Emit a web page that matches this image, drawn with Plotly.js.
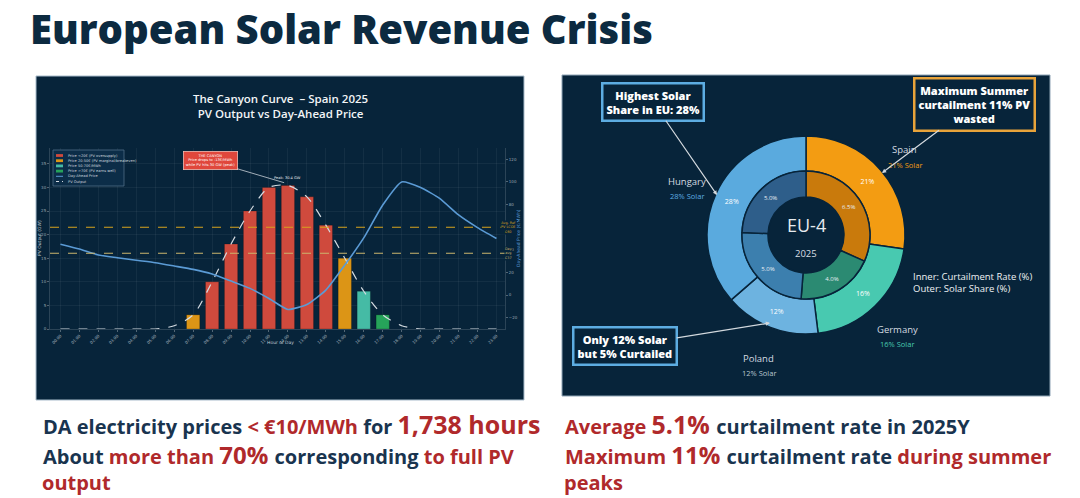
<!DOCTYPE html>
<html><head><meta charset="utf-8">
<script src="https://cdn.plot.ly/plotly-3.0.1.min.js"></script>
<style>html,body{margin:0;padding:0;background:#fff;overflow:hidden}#chart{width:1080px;height:498px}</style>
</head><body><div id="chart"></div>
<script>
// ---------- DATA ----------
const hours = ['00:00','01:00','02:00','03:00','04:00','05:00','06:00','07:00','08:00','09:00','10:00','11:00',
               '12:00','13:00','14:00','15:00','16:00','17:00','18:00','19:00','20:00','21:00','22:00','23:00'];
const pvOutput = [0,0,0,0,0,0,0.7,3,10,18,25,30,30.4,28,22,15,8,3,0.7,0,0,0,0,0];           // GW
const dayAheadPrice = [45,40.7,35.4,33,30.7,28.6,25.7,22.7,18.6,12.4,5.9,-3,-12.7,-8.3,4.4,26.5,50.5,79.6,100,95,85.5,70.8,59.6,50]; // EUR/MWh
const bandNames = ['Price <20€ (PV oversupply)','Price 20-50€ (PV marginal/breakeven)','Price 50-70€/MWh','Price >70€ (PV earns well)'];
const bandLower = [-Infinity,20,50,70];
const bandUpper = [20,50,70,Infinity];
const bandColors = ['#cf4a3d','#dc9516','#45bba5','#26a35a'];
const refLineValues = [60,37];
const refLineLabels = ['Avg. Ref<br>PV LCOE<br>€60','Day<br>avg<br>€37'];
const refLineColors = ['#d8a31e','#cbb56e'];

const countries = ['Spain','Germany','Poland','Hungary'];
const solarShare = [21,16,12,28];          // outer ring, %
const curtailmentRate = [6.5,4.0,5.0,5.0]; // inner ring, %
const outerColors = ['#f39c12','#48c9b0','#6db3e0','#5aaade'];
const innerColors = ['#c97a0c','#2b8a72','#3c7fae','#2e5e8a'];
const labelColors = ['#f39c12','#48c9b0','#b8c4cf','#5dade2'];

// ---------- HELPERS ----------
const W = 1080, H = 498;
const px = x => x / W, py = y => 1 - y / H;
const NAVY = '#07243a';
const hourIdx = hours.map((_, i) => i);
const xDom = [px(50), px(505)], yDom = [py(329), py(148)];

const traces = [];
bandNames.forEach((name, b) => {
  traces.push({
    type: 'bar', name, xaxis: 'x', yaxis: 'y', showlegend: false, hoverinfo: 'skip',
    x: hourIdx,
    y: pvOutput.map((v, i) => (v >= 1 && dayAheadPrice[i] >= bandLower[b] && dayAheadPrice[i] < bandUpper[b]) ? v : null),
    width: 0.7,
    marker: {color: bandColors[b], line: {color: 'rgba(0,0,0,0.35)', width: 0.6}}
  });
});
traces.push({type: 'scatter', mode: 'lines', name: 'PV Output', x: hourIdx, y: pvOutput, xaxis: 'x', yaxis: 'y',
  line: {color: '#d5dbe1', width: 1.2, dash: 'dash', shape: 'spline', smoothing: 0.8}, showlegend: false, hoverinfo: 'skip'});
traces.push({type: 'scatter', mode: 'lines', name: 'Day-Ahead Price', x: hourIdx, y: dayAheadPrice, xaxis: 'x', yaxis: 'y2',
  line: {color: '#5b9bd5', width: 1.6, shape: 'spline', smoothing: 0.5}, showlegend: false, hoverinfo: 'skip'});

// donut
traces.push({type: 'pie', labels: countries, values: solarShare, sort: false, direction: 'clockwise', rotation: 0,
  hole: 64/99, domain: {x: [px(707), px(905)], y: [py(334), py(136)]},
  marker: {colors: outerColors, line: {color: NAVY, width: 1.5}},
  texttemplate: '%{value}%', textposition: 'inside', insidetextorientation: 'horizontal',
  textfont: {size: 7, color: '#ffffff', family: 'Open Sans'}, hoverinfo: 'skip', showlegend: false});
traces.push({type: 'pie', labels: countries, values: curtailmentRate, sort: false, direction: 'clockwise', rotation: 0,
  hole: 38/64, domain: {x: [px(742), px(870)], y: [py(299), py(171)]},
  marker: {colors: innerColors, line: {color: NAVY, width: 1.5}},
  texttemplate: '%{value:.1f}%', textposition: 'inside', insidetextorientation: 'horizontal',
  textfont: {size: 6, color: '#e8eef3', family: 'Open Sans'}, hoverinfo: 'skip', showlegend: false});

// ---------- SHAPES ----------
const shapes = [
  {type: 'rect', xref: 'paper', yref: 'paper', x0: px(36), x1: px(524), y0: py(400), y1: py(76),
   fillcolor: NAVY, line: {color: '#a9bccb', width: 1}, layer: 'below'},
  {type: 'rect', xref: 'paper', yref: 'paper', x0: px(562), x1: px(1050), y0: py(396), y1: py(75),
   fillcolor: NAVY, line: {color: '#8fa4b5', width: 1}, layer: 'below'}
];
refLineValues.forEach((v, i) => shapes.push({type: 'line', xref: 'paper', yref: 'y2', x0: xDom[0], x1: xDom[1], y0: v, y1: v,
  line: {color: refLineColors[i], width: 1.1, dash: 'dash'}}));

// manual legend
const legNames = bandNames.concat(['Day-Ahead Price', 'PV Output']);
shapes.push({type: 'rect', xref: 'paper', yref: 'paper', x0: px(53), x1: px(124), y0: py(186), y1: py(150),
  fillcolor: '#0c2d48', line: {color: '#4f6d87', width: 0.8}});
const annotations = [];
legNames.forEach((n, i) => {
  const yc = 155.5 + i * 5.2;
  if (i < 4) shapes.push({type: 'rect', xref: 'paper', yref: 'paper', x0: px(56), x1: px(63), y0: py(yc + 1.4), y1: py(yc - 1.4),
    fillcolor: bandColors[i], line: {width: 0}});
  else shapes.push({type: 'line', xref: 'paper', yref: 'paper', x0: px(56), x1: px(63), y0: py(yc), y1: py(yc),
    line: {color: i === 4 ? '#5b9bd5' : '#d5dbe1', width: 1, dash: i === 4 ? 'solid' : 'dot'}});
  annotations.push({xref: 'paper', yref: 'paper', x: px(66), y: py(yc), xanchor: 'left', yanchor: 'middle', showarrow: false,
    text: n, font: {size: 3.6, color: '#cdd6de', family: 'DejaVu Sans'}});
});

// ---------- ANNOTATIONS ----------
const A = (x, y, text, font, extra) => Object.assign({xref: 'paper', yref: 'paper', x: px(x), y: py(y), text, showarrow: false, font,
  xanchor: 'center', yanchor: 'middle'}, extra || {});
const DARK = '#19344f', RED = '#b0292b';
const HF = 'Open Sans';
annotations.push(A(28, 28, 'European Solar Revenue Crisis', {size: 40, color: '#0c2a40', family: HF, weight: 800}, {xanchor: 'left'}));
annotations.push(A(280, 106, 'The Canyon Curve  – Spain 2025<br>PV Output vs Day-Ahead Price', {size: 11.5, color: '#f2f5f7', family: HF, weight: 600}));
// axis titles
annotations.push(A(40, 238, 'PV Output (GW)', {size: 4.5, color: '#c2ccd5', family: 'DejaVu Sans'}, {textangle: -90}));
annotations.push(A(519, 238, 'Day-Ahead Price (€/MWh)', {size: 4.5, color: '#5b9bd5', family: 'DejaVu Sans'}, {textangle: -90}));
annotations.push(A(280, 342, 'Hour of Day', {size: 4.5, color: '#c2ccd5', family: 'DejaVu Sans'}));
// ref line labels
refLineValues.forEach((v, i) => annotations.push({xref: 'paper', yref: 'y2', x: px(509), y: v, text: refLineLabels[i], showarrow: false,
  font: {size: 3.4, color: refLineColors[i], family: 'DejaVu Sans'}, xanchor: 'center', yanchor: 'middle', bgcolor: NAVY, borderpad: 0}));
// canyon
const peakIdx = pvOutput.indexOf(Math.max(...pvOutput));
annotations.push({xref: 'x', yref: 'y', x: hourIdx[peakIdx], y: pvOutput[peakIdx], yshift: 8, showarrow: false, yanchor: 'middle',
  text: 'Peak: ' + pvOutput[peakIdx] + ' GW', font: {size: 3.6, color: '#e8edf1', family: 'DejaVu Sans'}});
const minPrice = Math.min(...dayAheadPrice);
annotations.push({xref: 'x', yref: 'y', x: hourIdx[peakIdx] - 0.2, y: pvOutput[peakIdx] + 0.6, ax: -74, ay: -22, showarrow: true,
  arrowhead: 0, arrowwidth: 0.8, arrowcolor: '#c9d1d8',
  text: 'THE CANYON<br>Price drops to ' + Math.round(minPrice) + '€/MWh<br>while PV hits 30 GW (peak)',
  font: {size: 3.6, color: '#ffffff', family: 'DejaVu Sans'}, bgcolor: '#e0473c', bordercolor: '#f3b9b1', borderwidth: 0.8, borderpad: 2});

// donut centre + labels
annotations.push(A(806, 225, 'EU-4', {size: 18, color: '#e6ebef', family: 'Open Sans'}));
annotations.push(A(806, 253, '2025', {size: 9.5, color: '#d7dee4', family: 'Open Sans'}));
const labPos = [[905, 150], [897, 329], [759, 358], [687, 181]];
countries.forEach((c, i) => {
  annotations.push(A(labPos[i][0], labPos[i][1], c, {size: 9.5, color: '#d5dbe0', family: 'Open Sans'}));
  annotations.push(A(labPos[i][0], labPos[i][1] + 15, solarShare[i] + '% Solar', {size: 7.5, color: labelColors[i], family: 'Open Sans'}));
});
annotations.push(A(911, 282, 'Inner: Curtailment Rate (%)<br>Outer: Solar Share (%)', {size: 9.5, color: '#eef1f3', family: HF, weight: 500}, {xanchor: 'left', align: 'left'}));
// callouts
const callout = (tx, ty, cx, cy, text, col) => ({xref: 'paper', yref: 'paper', x: px(tx), y: py(ty), ax: cx - tx, ay: cy - ty,
  showarrow: true, arrowhead: 2, arrowsize: 0.7, arrowwidth: 1.2, arrowcolor: '#d3d9de', text,
  font: {size: 11, color: '#ffffff', family: HF, weight: 800}, bgcolor: NAVY, bordercolor: col, borderwidth: 2.5, borderpad: 3});
annotations.push(callout(717, 195, 653, 102, 'Highest Solar<br>Share in EU: ' + Math.max(...solarShare) + '%', '#5dade2'));
annotations.push(callout(882, 173, 974, 104, 'Maximum Summer<br>curtailment 11% PV<br>wasted', '#e8a33a'));
annotations.push(callout(770, 323, 625, 346, 'Only ' + solarShare[2] + '% Solar<br>but ' + curtailmentRate[2] + '% Curtailed', '#5dade2'));

// bottom text
const s = (t, c, sz) => '<span style="color:' + c + (sz ? ';font-size:' + sz + 'px' : '') + '">' + t + '</span>';
const BF = {size: 20, color: DARK, family: HF, weight: 700};
annotations.push(A(41, 424, s('DA electricity prices ', DARK) + s('&lt; €10/MWh ', RED) + s('for ', DARK) + s('1,738 hours', RED, 25), BF, {xanchor: 'left'}));
annotations.push(A(41, 454, s('About ', DARK) + s('more than ', RED) + s('70% ', RED, 24) + s('corresponding ', DARK) + s('to full PV', RED), BF, {xanchor: 'left'}));
annotations.push(A(41, 482, s('output', RED), BF, {xanchor: 'left', borderpad: 0}));
annotations.push(A(563, 424, s('Average ', RED) + s('5.1% ', RED, 25) + s('curtailment rate in 2025Y', DARK), BF, {xanchor: 'left'}));
annotations.push(A(563, 454, s('Maximum ', RED) + s('11% ', RED, 24) + s('curtailment rate ', DARK) + s('during summer', RED), BF, {xanchor: 'left'}));
annotations.push(A(563, 482, s('peaks', RED), BF, {xanchor: 'left', borderpad: 0}));

// ---------- LAYOUT ----------
const tickFont = {size: 4, color: '#9aa7b3', family: 'DejaVu Sans'};
const layout = {
  width: W, height: H, margin: {l: 0, r: 0, t: 0, b: 0}, autosize: false,
  paper_bgcolor: '#ffffff', plot_bgcolor: 'rgba(0,0,0,0)', barmode: 'overlay', showlegend: false,
  xaxis: {domain: xDom, range: [-0.55, 23.45], tickvals: hourIdx, ticktext: hours, tickangle: -45, tickfont: tickFont,
    showgrid: true, gridcolor: 'rgba(255,255,255,0.05)', zeroline: false, showline: true, linecolor: 'rgba(255,255,255,0.15)',
    ticks: 'outside', ticklen: 2, tickcolor: 'rgba(255,255,255,0.3)', fixedrange: true},
  yaxis: {domain: yDom, anchor: 'x', range: [0, 38.35], dtick: 5, tickfont: tickFont, showgrid: true, gridcolor: 'rgba(255,255,255,0.05)',
    zeroline: false, showline: true, linecolor: 'rgba(255,255,255,0.15)', ticks: 'outside', ticklen: 2, tickcolor: 'rgba(255,255,255,0.3)'},
  yaxis2: {overlaying: 'y', side: 'right', anchor: 'x', range: [-30, 130], tickvals: [-20,0,20,40,60,80,100,120], tickfont: tickFont,
    showgrid: false, zeroline: false, showline: true, linecolor: 'rgba(255,255,255,0.15)', ticks: 'outside', ticklen: 2, tickcolor: 'rgba(255,255,255,0.3)'},
  shapes, annotations
};
Plotly.newPlot('chart', traces, layout, {staticPlot: true, displayModeBar: false});
</script></body></html>
